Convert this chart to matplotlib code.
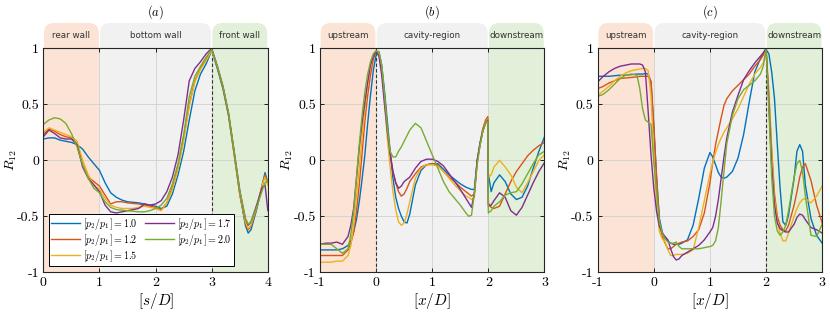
import matplotlib
matplotlib.use("Agg")
import matplotlib.pyplot as plt
from matplotlib.patches import FancyBboxPatch

plt.rcParams['mathtext.fontset'] = 'cm'

# ---------------- data ----------------
labels = ["1.0", "1.2", "1.5", "1.7", "2.0"]
colors = ["#0072BD", "#D95319", "#EDB120", "#7E2F8E", "#77AC30"]

# panel (a): s/D along the walls
xa = [0, .1, .2, .3, .4, .5, .6, .7, .8, .9, 1.0, 1.1, 1.2, 1.3, 1.4, 1.5, 1.6, 1.7, 1.8, 1.9,
      2.0, 2.1, 2.2, 2.3, 2.4, 2.5, 2.6, 2.7, 2.8, 2.9, 3.0, 3.1, 3.2, 3.3, 3.4, 3.5, 3.6, 3.65,
      3.7, 3.8, 3.9, 3.95, 4.0]
a_10 = [0.19, 0.20, 0.20, 0.18, 0.17, 0.16, 0.14, 0.10, 0.03, -0.03, -0.09, -0.20, -0.29, -0.33,
        -0.355, -0.37, -0.375, -0.38, -0.39, -0.40, -0.41, -0.43, -0.41, -0.30, -0.13, 0.08, 0.36,
        0.62, 0.77, 0.86, 0.98, 0.82, 0.64, 0.40, 0.06, -0.30, -0.58, -0.65, -0.62, -0.44, -0.22,
        -0.11, -0.20]
a_12 = [0.23, 0.28, 0.26, 0.23, 0.21, 0.20, 0.15, -0.04, -0.15, -0.19, -0.23, -0.31, -0.39, -0.37,
        -0.37, -0.38, -0.385, -0.39, -0.40, -0.41, -0.42, -0.44, -0.38, -0.24, -0.05, 0.20, 0.50,
        0.71, 0.82, 0.90, 0.99, 0.83, 0.65, 0.40, 0.05, -0.30, -0.56, -0.62, -0.59, -0.43, -0.22,
        -0.13, -0.22]
a_15 = [0.25, 0.29, 0.27, 0.25, 0.23, 0.21, 0.17, 0.0, -0.13, -0.22, -0.26, -0.34, -0.40, -0.42,
        -0.43, -0.43, -0.43, -0.42, -0.41, -0.42, -0.43, -0.45, -0.38, -0.26, -0.08, 0.17, 0.48,
        0.70, 0.81, 0.89, 0.98, 0.84, 0.66, 0.41, 0.06, -0.29, -0.55, -0.61, -0.58, -0.42, -0.22,
        -0.15, -0.22]
a_17 = [0.21, 0.27, 0.24, 0.20, 0.19, 0.19, 0.14, -0.06, -0.16, -0.22, -0.28, -0.40, -0.46, -0.47,
        -0.46, -0.45, -0.44, -0.43, -0.39, -0.40, -0.39, -0.36, -0.28, -0.15, 0.05, 0.36, 0.71,
        0.82, 0.88, 0.95, 1.0, 0.84, 0.66, 0.42, 0.08, -0.27, -0.52, -0.58, -0.55, -0.40, -0.24,
        -0.22, -0.45]
a_20 = [0.32, 0.36, 0.38, 0.37, 0.33, 0.24, 0.12, -0.04, -0.16, -0.25, -0.29, -0.37, -0.42, -0.44,
        -0.445, -0.45, -0.455, -0.46, -0.46, -0.45, -0.43, -0.40, -0.34, -0.21, -0.03, 0.23, 0.57,
        0.75, 0.84, 0.92, 0.99, 0.84, 0.66, 0.42, 0.08, -0.27, -0.52, -0.57, -0.55, -0.42, -0.27,
        -0.20, -0.18]

# panel (b): x/D, cavity edge
xb = [-1, -0.9, -0.8, -0.7, -0.6, -0.5, -0.45, -0.4, -0.35, -0.3, -0.25, -0.2, -0.15, -0.1, -0.05,
      0, 0.05, 0.1, 0.15, 0.2, 0.25, 0.3, 0.35, 0.4, 0.45, 0.5, 0.55, 0.6, 0.7, 0.8, 0.9, 1.0,
      1.1, 1.2, 1.3, 1.4, 1.5, 1.6, 1.65, 1.7, 1.75, 1.8, 1.85, 1.9, 1.95, 1.99, 2.0, 2.05, 2.1,
      2.2, 2.3, 2.4, 2.5, 2.6, 2.7, 2.8, 2.9, 3.0]
b_10 = [-0.80, -0.80, -0.80, -0.80, -0.79, -0.76, -0.72, -0.64, -0.53, -0.37, -0.17, 0.05, 0.33,
        0.58, 0.80, 0.94, 0.97, 0.85, 0.62, 0.35, 0.08, -0.16, -0.33, -0.43, -0.50, -0.55, -0.56,
        -0.48, -0.22, -0.09, -0.04, -0.03, -0.03, -0.08, -0.13, -0.17, -0.21, -0.24, -0.25, -0.26,
        -0.26, -0.01, 0.13, 0.26, 0.34, 0.36, -0.12, -0.28, -0.20, -0.13, -0.19, -0.30, -0.35,
        -0.33, -0.23, -0.07, 0.08, 0.21]
b_12 = [-0.85, -0.85, -0.85, -0.85, -0.85, -0.80, -0.74, -0.64, -0.46, -0.22, 0.06, 0.35, 0.58,
        0.76, 0.90, 0.97, 0.96, 0.82, 0.57, 0.29, 0.06, -0.10, -0.20, -0.28, -0.32, -0.30, -0.25,
        -0.19, -0.12, -0.06, -0.04, -0.03, -0.04, -0.10, -0.15, -0.19, -0.24, -0.28, -0.30, -0.32,
        -0.30, -0.02, 0.15, 0.28, 0.36, 0.39, -0.38, -0.42, -0.43, -0.41, -0.30, -0.19, -0.10,
        -0.03, 0.04, 0.09, 0.13, 0.16]
b_15 = [-0.91, -0.91, -0.91, -0.90, -0.90, -0.85, -0.76, -0.58, -0.33, -0.07, 0.20, 0.46, 0.68,
        0.85, 0.94, 0.97, 0.96, 0.82, 0.52, 0.20, -0.06, -0.28, -0.44, -0.55, -0.58, -0.56, -0.48,
        -0.37, -0.16, -0.07, -0.04, -0.04, -0.05, -0.10, -0.16, -0.22, -0.27, -0.32, -0.33, -0.35,
        -0.33, -0.03, 0.13, 0.26, 0.34, 0.37, -0.15, -0.13, -0.06, 0.0, -0.06, -0.13, -0.24,
        -0.29, -0.20, -0.10, 0.0, 0.05]
b_17 = [-0.75, -0.74, -0.74, -0.73, -0.75, -0.68, -0.58, -0.43, -0.16, 0.11, 0.33, 0.52, 0.70,
        0.85, 0.93, 0.97, 0.93, 0.76, 0.50, 0.26, 0.06, -0.10, -0.20, -0.25, -0.23, -0.19, -0.17,
        -0.15, -0.07, -0.01, 0.01, 0.01, -0.01, -0.05, -0.12, -0.19, -0.26, -0.34, -0.38, -0.42,
        -0.30, 0.0, 0.15, 0.26, 0.33, 0.36, -0.41, -0.40, -0.36, -0.29, -0.33, -0.45, -0.49,
        -0.42, -0.31, -0.20, -0.10, -0.02]
b_20 = [-0.75, -0.75, -0.75, -0.79, -0.83, -0.79, -0.66, -0.46, -0.16, 0.14, 0.40, 0.61, 0.77,
        0.88, 0.95, 0.98, 0.97, 0.85, 0.58, 0.29, 0.08, 0.03, 0.03, 0.08, 0.12, 0.17, 0.22, 0.27,
        0.33, 0.29, 0.17, 0.05, -0.07, -0.19, -0.28, -0.34, -0.40, -0.47, -0.50, -0.49, -0.30,
        -0.04, 0.13, 0.26, 0.33, 0.35, -0.47, -0.45, -0.41, -0.37, -0.31, -0.29, -0.28, -0.21,
        -0.12, -0.03, 0.05, 0.08]

# panel (c): x/D, cavity edge
xc = [-1, -0.9, -0.8, -0.7, -0.6, -0.5, -0.4, -0.3, -0.25, -0.2, -0.15, -0.1, -0.05, 0, 0.05,
      0.1, 0.15, 0.2, 0.25, 0.3, 0.35, 0.4, 0.45, 0.5, 0.6, 0.7, 0.8, 0.9, 1.0, 1.05, 1.1, 1.15,
      1.2, 1.25, 1.3, 1.4, 1.5, 1.6, 1.7, 1.8, 1.9, 1.95, 2.0, 2.05, 2.1, 2.15, 2.2, 2.25, 2.3,
      2.35, 2.4, 2.5, 2.55, 2.6, 2.65, 2.7, 2.8, 2.9, 3.0]
c_10 = [0.75, 0.75, 0.75, 0.755, 0.76, 0.76, 0.765, 0.77, 0.77, 0.77, 0.775, 0.77, 0.70, 0.29,
        -0.16, -0.52, -0.64, -0.70, -0.72, -0.74, -0.75, -0.75, -0.75, -0.74, -0.71, -0.58, -0.34,
        -0.07, 0.07, 0.03, -0.04, -0.11, -0.15, -0.16, -0.15, -0.10, 0.02, 0.23, 0.52, 0.79, 0.91,
        0.95, 0.99, 0.95, 0.79, 0.55, 0.14, -0.25, -0.55, -0.58, -0.49, -0.16, 0.08, 0.14, 0.08,
        -0.22, -0.52, -0.67, -0.74]
c_12 = [0.64, 0.66, 0.69, 0.71, 0.73, 0.735, 0.74, 0.745, 0.75, 0.75, 0.75, 0.75, 0.70, 0.32,
        -0.16, -0.55, -0.68, -0.74, -0.79, -0.79, -0.77, -0.75, -0.74, -0.73, -0.72, -0.68, -0.62,
        -0.47, -0.20, -0.02, 0.14, 0.26, 0.38, 0.49, 0.55, 0.62, 0.67, 0.72, 0.77, 0.84, 0.90,
        0.94, 0.99, 0.60, 0.10, -0.30, -0.50, -0.58, -0.62, -0.63, -0.58, -0.40, -0.28, -0.15,
        -0.06, -0.03, -0.18, -0.40, -0.56]
c_15 = [0.58, 0.62, 0.66, 0.71, 0.75, 0.78, 0.80, 0.81, 0.815, 0.82, 0.82, 0.80, 0.58, 0.05,
        -0.40, -0.64, -0.70, -0.73, -0.80, -0.85, -0.85, -0.84, -0.84, -0.84, -0.83, -0.80, -0.60,
        -0.36, -0.12, -0.02, 0.07, 0.14, 0.20, 0.25, 0.29, 0.37, 0.46, 0.57, 0.68, 0.77, 0.83,
        0.87, 0.99, 0.55, 0.05, -0.35, -0.55, -0.65, -0.72, -0.72, -0.65, -0.50, -0.43, -0.38,
        -0.35, -0.34, -0.38, -0.32, -0.23]
c_17 = [0.70, 0.75, 0.79, 0.82, 0.84, 0.85, 0.86, 0.86, 0.86, 0.85, 0.79, 0.43, 0.05, -0.25,
        -0.46, -0.59, -0.65, -0.68, -0.71, -0.79, -0.86, -0.89, -0.88, -0.85, -0.82, -0.79, -0.76,
        -0.71, -0.64, -0.60, -0.50, -0.35, -0.16, 0.03, 0.20, 0.43, 0.58, 0.72, 0.80, 0.87, 0.93,
        0.96, 1.0, 0.50, -0.05, -0.40, -0.56, -0.61, -0.63, -0.64, -0.64, -0.57, -0.51, -0.48,
        -0.49, -0.53, -0.60, -0.62, -0.65]
c_20 = [0.57, 0.59, 0.63, 0.68, 0.73, 0.76, 0.77, 0.76, 0.64, 0.46, 0.36, 0.34, 0.32, -0.01,
        -0.28, -0.55, -0.65, -0.70, -0.73, -0.74, -0.74, -0.73, -0.77, -0.79, -0.79, -0.79, -0.79,
        -0.78, -0.77, -0.76, -0.72, -0.60, -0.36, -0.10, 0.15, 0.40, 0.55, 0.63, 0.67, 0.71, 0.77,
        0.84, 0.99, 0.45, -0.15, -0.50, -0.63, -0.67, -0.64, -0.58, -0.45, -0.15, -0.03, 0.0,
        -0.10, -0.32, -0.67, -0.68, -0.57]

panels = [
    dict(x=xa, ys=[a_10, a_12, a_15, a_17, a_20], xlim=(0, 4), edges=[0, 1, 3, 4],
         names=["rear wall", "bottom wall", "front wall"], dash=3, title="$(a)$",
         xlabel="$[s/D]$", xticks=[0, 1, 2, 3, 4]),
    dict(x=xb, ys=[b_10, b_12, b_15, b_17, b_20], xlim=(-1, 3), edges=[-1, 0, 2, 3],
         names=["upstream", "cavity-region", "downstream"], dash=0, title="$(b)$",
         xlabel="$[x/D]$", xticks=[-1, 0, 1, 2, 3]),
    dict(x=xc, ys=[c_10, c_12, c_15, c_17, c_20], xlim=(-1, 3), edges=[-1, 0, 2, 3],
         names=["upstream", "cavity-region", "downstream"], dash=2, title="$(c)$",
         xlabel="$[x/D]$", xticks=[-1, 0, 1, 2, 3]),
]
region_colors = ["#FBE4D6", "#F1F1F1", "#E2EFD9"]

fig = plt.figure(figsize=(8.3, 3.13), dpi=100)
lefts = [0.0522, 0.3855, 0.7201]
for k, p in enumerate(panels):
    ax = fig.add_axes([lefts[k], 0.130, 0.2705, 0.7157])
    ax.set_axisbelow(True)
    x0, x1 = p["xlim"]
    span = x1 - x0
    # shaded regions + header tabs
    for j in range(3):
        e0, e1 = p["edges"][j], p["edges"][j + 1]
        ax.axvspan(e0, e1, color=region_colors[j], zorder=0.1, lw=0)
        f0 = (e0 - x0) / span + 0.003
        f1 = (e1 - x0) / span - 0.003
        tab = FancyBboxPatch((f0, 0.95), f1 - f0, 0.163,
                             boxstyle="round,pad=0,rounding_size=0.045",
                             transform=ax.transAxes, clip_on=False,
                             fc=region_colors[j], ec="none", zorder=0.2)
        ax.add_patch(tab)
        ax.text((f0 + f1) / 2, 1.057, p["names"][j], transform=ax.transAxes,
                ha="center", va="center", fontsize=6.3, color="#333333",
                family="DejaVu Sans")
    ax.axvline(p["dash"], color="#333333", lw=0.8, ls=(0, (3, 2)), zorder=1)
    for y, c, lab in zip(p["ys"], colors, labels):
        ax.plot(p["x"], y, color=c, lw=1.0, label=r"$[p_2/p_1] = %s$" % lab, zorder=2)
    ax.set_xlim(x0, x1)
    ax.set_ylim(-1, 1)
    ax.grid(True, color="#D0D0D0", lw=0.6)
    ax.set_xticks(p["xticks"])
    ax.set_xticklabels([str(t) for t in p["xticks"]], family="cmr10", fontsize=10)
    ax.set_yticks([-1, -0.5, 0, 0.5, 1])
    ax.set_yticklabels(["-1", "-0.5", "0", "0.5", "1"], family="cmr10", fontsize=10)
    ax.tick_params(direction="in", length=3, width=0.6, top=True, right=True, pad=3)
    for s in ax.spines.values():
        s.set_linewidth(0.8)
        s.set_color("#262626")
    ax.set_xlabel(p["xlabel"], fontsize=11, labelpad=2)
    ax.set_ylabel("$R_{12}$", fontsize=10)
    ax.yaxis.set_label_coords(-0.11, 0.5)
    ax.text(0.5, 1.16, p["title"], transform=ax.transAxes, ha="center", va="center",
            fontsize=9)
    if k == 0:
        leg = ax.legend(ncol=2, loc="lower left", bbox_to_anchor=(0.02, 0.025),
                        fontsize=7.2, handlelength=2.9, columnspacing=0.7,
                        handletextpad=0.35, labelspacing=0.0, borderpad=0.2,
                        borderaxespad=0.1, fancybox=False, framealpha=1,
                        edgecolor="black")
        leg.get_frame().set_linewidth(0.7)

fig.savefig("out.png", dpi=100)
